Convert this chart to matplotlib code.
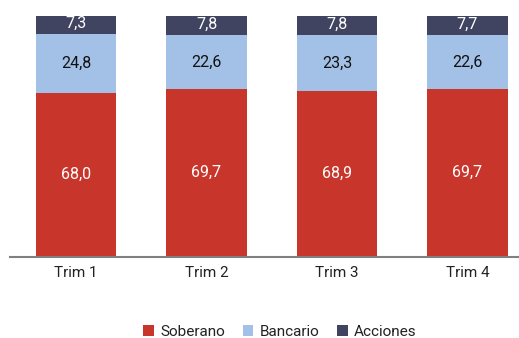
import matplotlib
matplotlib.use("Agg")
import matplotlib.pyplot as plt
import numpy as np

categories = ["Trim 1", "Trim 2", "Trim 3", "Trim 4"]
soberano = [68.0, 69.7, 68.9, 69.7]
bancario = [24.8, 22.6, 23.3, 22.6]
acciones = [7.3, 7.8, 7.8, 7.7]
series_names = ["Soberano", "Bancario", "Acciones"]
colors = ["#C8362B", "#A3C1E6", "#414461"]
text_colors = ["white", "#111111", "white"]
offsets = [0.0, 0.0, 0.6]

plt.rcParams['font.family'] = ['Roboto', 'DejaVu Sans']

W, H = 519, 338
fig = plt.figure(figsize=(W/100, H/100), dpi=100)
ax = fig.add_axes([10/W, 1-256.5/H, (W-10)/W, (256.5-16)/H])

x = np.arange(len(categories))
bottom = np.zeros(len(categories))
for name, vals, c, tc, off in zip(series_names, [soberano, bancario, acciones],
                                  colors, text_colors, offsets):
    v = np.array(vals)
    ax.bar(x, v, width=0.62, bottom=bottom, color=c, label=name, edgecolor='none')
    for xi, b, vi in zip(x, bottom, v):
        ax.text(xi, b + vi/2 + off, f"{vi:.1f}".replace('.', ','), ha='center', va='center',
                color=tc, fontsize=11.5)
    bottom += v

ax.set_xlim(-0.506, 3.395)
ax.set_ylim(0, 100.1)
for s in ['top', 'right', 'left']:
    ax.spines[s].set_visible(False)
ax.spines['bottom'].set_color('#808080')
ax.spines['bottom'].set_linewidth(1.5)
ax.set_yticks([])
ax.set_xticks(x)
ax.set_xticklabels(categories, fontsize=11, color='#222222')
ax.tick_params(axis='x', length=0, pad=6.5)

fig.legend(loc='center', bbox_to_anchor=(280/W, 1-332/H), ncol=3, frameon=False,
           fontsize=11, handlelength=0.7, handleheight=0.7, handletextpad=0.4,
           columnspacing=1.18, labelcolor='#222222')

fig.savefig("out.png", dpi=100)
